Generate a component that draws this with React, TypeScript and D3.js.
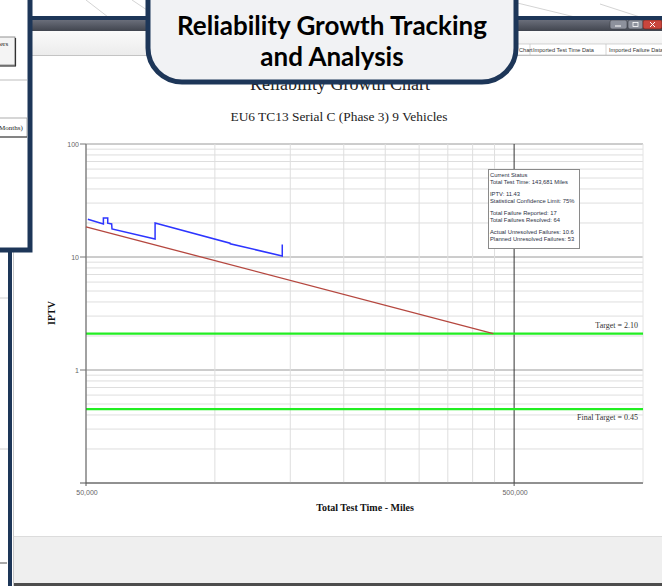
import React from 'react';
import * as d3 from 'd3';

// --------------------------------------------------------
// chart values
// --------------------------------------------------------
const actualTime = [50500, 54900, 54900, 56200, 56200, 57400, 57500, 72500, 72500, 108500, 108600, 143681, 143681];
const actualIptv = [21.6, 19.6, 22.1, 22.1, 19.9, 19.6, 17.7, 14.4, 20.0, 13.25, 13.1, 10.2, 12.9];

const plannedTime = [50000, 447000];
const plannedIptv = [18.5, 2.1];

const targetValues = [2.1, 0.45];
const targetLabels = ['Target = 2.10', 'Final Target = 0.45'];

const yTickValues = [100, 10, 1];
const xTickValues = [50000, 500000];
const xGridValues = [50000, 100000, 150000, 200000, 250000, 300000, 350000, 400000, 450000, 500000];

const statusLines = [
  'Current Status', 'Total Test Time: 143,681 Miles', '',
  'IPTV: 11.43', 'Statistical Confidence Limit: 75%', '',
  'Total Failure Reported: 17', 'Total Failures Resolved: 64', '',
  'Actual Unresolved Failures: 10.6', 'Planned Unresolved Failures: 53'
];

const tabLabels = ['Chart', 'Imported Test Time Data', 'Imported Failure Data'];

const W = 662, H = 586;
const plot = { left: 86, right: 643, top: 144, bottom: 483 };
const serif = '"Liberation Serif", "Times New Roman", serif';
const sans = '"Liberation Sans", Arial, sans-serif';
const navy = '#1d3658';

export default function App() {
  const x = d3.scaleLog().domain([50000, 1000000]).range([plot.left, plot.right]);
  const y = d3.scaleLog().domain([0.1, 100]).range([plot.bottom, plot.top]);

  const line = d3.line<[number, number]>().x(d => x(d[0])).y(d => y(d[1]));
  const actual = line(d3.zip(actualTime, actualIptv) as [number, number][]);
  const planned = line(d3.zip(plannedTime, plannedIptv) as [number, number][]);

  const isMajor = (v: number) => Math.abs(Math.log10(v) - Math.round(Math.log10(v))) < 1e-6;
  const fmt = d3.format(',');

  // status box text baselines (blank lines are tighter)
  let ty = 177;
  const statusY = statusLines.map(s => { const v = ty; ty += s === '' ? 5 : 7; return v; });

  return (
    <svg width={W} height={H} style={{ display: 'block', position: 'absolute', left: 0, top: 0 }}>
      <defs>
        <linearGradient id="titlebar" x1="0" y1="0" x2="0" y2="1">
          <stop offset="0" stopColor="#6a6e7a" />
          <stop offset="1" stopColor="#41454f" />
        </linearGradient>
        <linearGradient id="toolbar" x1="0" y1="0" x2="0" y2="1">
          <stop offset="0" stopColor="#fafafa" />
          <stop offset="1" stopColor="#ececec" />
        </linearGradient>
      </defs>

      <rect width={W} height={H} fill="#fff" />
      {/* slide background lines */}
      <g stroke="#d4d4d4" strokeWidth={1}>
        <line x1={86} y1={0} x2={108} y2={17} />
        <line x1={132} y1={0} x2={150} y2={12} />
        <line x1={430} y1={0} x2={455} y2={17} />
        <line x1={505} y1={0} x2={575} y2={17} />
        <line x1={600} y1={4} x2={640} y2={17} />
      </g>

      {/* application window */}
      <rect x={10} y={17} width={W} height={H} fill="#fff" />
      <rect x={13} y={20} width={W} height={11} fill="url(#titlebar)" />
      <rect x={13} y={31} width={W} height={24} fill="url(#toolbar)" />
      <line x1={13} x2={W} y1={55.5} y2={55.5} stroke="#c4c4c4" />
      {/* window buttons */}
      <rect x={610} y={20} width={17} height={9} rx={2} fill="#8d919c" stroke="#3c3f47" strokeWidth={0.6} />
      <rect x={628} y={20} width={15} height={9} rx={2} fill="#8d919c" stroke="#3c3f47" strokeWidth={0.6} />
      <rect x={643} y={20} width={19} height={9} rx={2} fill="#c9463d" stroke="#5a1c18" strokeWidth={0.6} />
      <line x1={615} x2={621} y1={26} y2={26} stroke="#fff" />
      <rect x={633} y={22.5} width={5} height={4} fill="none" stroke="#fff" strokeWidth={0.8} />
      <path d="M650,22 l5,5 M655,22 l-5,5" stroke="#fff" strokeWidth={1} />
      {/* tabs */}
      <rect x={515} y={44} width={150} height={11} fill="#fff" stroke="#b8b8b8" strokeWidth={0.6} />
      <line x1={530} x2={530} y1={44} y2={55} stroke="#b8b8b8" strokeWidth={0.6} />
      <line x1={606} x2={606} y1={44} y2={55} stroke="#b8b8b8" strokeWidth={0.6} />
      <g fontFamily={sans} fontSize={5.6} fill="#333">
        <text x={519} y={52}>{tabLabels[0]}</text>
        <text x={533} y={52}>{tabLabels[1]}</text>
        <text x={609} y={52}>{tabLabels[2]}</text>
      </g>

      {/* chart titles */}
      <text x={340} y={90} textAnchor="middle" fontFamily={serif} fontSize={18} fill="#222">Reliability Growth Chart</text>
      <text x={339} y={121} textAnchor="middle" fontFamily={serif} fontSize={13.4} fill="#222">EU6 TC13 Serial C (Phase 3) 9 Vehicles</text>

      {/* gridlines */}
      <g>
        {y.ticks().map(v => (
          <line key={'h' + v} x1={plot.left} x2={plot.right} y1={y(v)} y2={y(v)}
            stroke={isMajor(v) ? '#9a9a9a' : '#dedede'} strokeWidth={1} />
        ))}
        {xGridValues.map(v => (
          <line key={'v' + v} x1={x(v)} x2={x(v)} y1={plot.top} y2={plot.bottom}
            stroke={v === 500000 ? '#333' : '#dedede'} strokeWidth={1} />
        ))}
        <line x1={plot.right} x2={plot.right} y1={plot.top} y2={plot.bottom} stroke="#e4e4e4" />
      </g>

      {/* target lines */}
      {targetValues.map((v, i) => (
        <g key={'t' + i}>
          <line x1={plot.left} x2={plot.right} y1={y(v)} y2={y(v)} stroke="#22ee22" strokeWidth={2.2} />
          <text x={638} y={y(v) + (i === 0 ? -6 : 11)} textAnchor="end" fontFamily={serif} fontSize={8} fill="#333">{targetLabels[i]}</text>
        </g>
      ))}

      {/* axes */}
      <line x1={plot.left} x2={plot.left} y1={plot.top} y2={plot.bottom} stroke="#555" />
      <line x1={plot.left - 6} x2={plot.right} y1={plot.bottom} y2={plot.bottom} stroke="#555" />
      {yTickValues.map(v => (
        <g key={'yt' + v}>
          <line x1={plot.left - 6} x2={plot.left} y1={y(v)} y2={y(v)} stroke="#777" />
          <text x={plot.left - 7} y={y(v) + 2.5} textAnchor="end" fontFamily={sans} fontSize={7} fill="#666">{v}</text>
        </g>
      ))}
      {xTickValues.map(v => (
        <g key={'xt' + v}>
          <line x1={x(v)} x2={x(v)} y1={plot.bottom} y2={plot.bottom + 3} stroke="#555" />
          <text x={x(v) + 1} y={plot.bottom + 11.5} textAnchor="middle" fontFamily={sans} fontSize={7} fill="#666">{fmt(v)}</text>
        </g>
      ))}
      <text x={365} y={511} textAnchor="middle" fontFamily={serif} fontSize={10} fontWeight="bold" fill="#111">Total Test Time - Miles</text>
      <text transform="translate(55,313) rotate(-90)" textAnchor="middle" fontFamily={serif} fontSize={10} fontWeight="bold" fill="#111">IPTV</text>

      {/* series */}
      <path d={planned ?? ''} fill="none" stroke="#b5473f" strokeWidth={1.3} />
      <path d={actual ?? ''} fill="none" stroke="#2d35ff" strokeWidth={1.5} />

      {/* status box */}
      <rect x={488.5} y={169.5} width={91} height={79} fill="#fff" stroke="#8a8a8a" />
      <g fontFamily={sans} fontSize={5.8} fill="#2b2f44">
        {statusLines.map((s, i) => s === '' ? null : <text key={'s' + i} x={490} y={statusY[i]}>{s}</text>)}
      </g>

      {/* bottom status strip */}
      <rect x={13} y={536} width={W} height={48} fill="#efefef" />
      <line x1={13} x2={W} y1={536.5} y2={536.5} stroke="#dcdcdc" />
      <rect x={13} y={583} width={W} height={3} fill="#4d4d4d" />

      {/* frame of screenshot */}
      <rect x={10} y={18} width={W} height={H} fill="none" stroke={navy} strokeWidth={4} />
      <line x1={13.5} x2={13.5} y1={20} y2={H} stroke="#c8c8c8" />
      <line x1={0} x2={8} y1={298} y2={298} stroke="#d0d0d0" />
      <line x1={0} x2={8} y1={449} y2={449} stroke="#d0d0d0" />
      <line x1={0} x2={7} y1={563} y2={563} stroke="#a8a8a8" strokeWidth={2} />

      {/* overlapping panel on the left */}
      <rect x={-5} y={-5} width={35} height={255} fill="#fff" stroke={navy} strokeWidth={5} />
      <rect x={-4} y={37} width={19} height={28} fill="#f4f4f4" stroke="#7a7a7a" strokeWidth={0.8} />
      <line x1={15.5} x2={15.5} y1={38} y2={66} stroke="#333" strokeWidth={1.2} />
      <line x1={-2} x2={16} y1={66} y2={66} stroke="#333" strokeWidth={1.2} />
      <text x={0} y={46} fontFamily={serif} fontSize={7} fill="#222">ers</text>
      <line x1={0} x2={27} y1={80} y2={80} stroke="#bdbdbd" />
      <rect x={-2} y={118} width={29} height={19} fill="#fff" stroke="#9a9a9a" strokeWidth={0.8} />
      <line x1={0} x2={27} y1={137} y2={137} stroke="#333" />
      <text x={-1} y={130} fontFamily={serif} fontSize={7} fill="#222">Months)</text>

      {/* callout */}
      <rect x={148} y={-40} width={368} height={122} rx={34} fill="#f1f2f4" stroke={navy} strokeWidth={5} />
      <g fontFamily='Lato, "Open Sans", sans-serif' fontWeight="bold" fontSize={26} fill="#000" textAnchor="middle">
        <text x={332} y={35}>Reliability Growth Tracking</text>
        <text x={332} y={66}>and Analysis</text>
      </g>
    </svg>
  );
}
